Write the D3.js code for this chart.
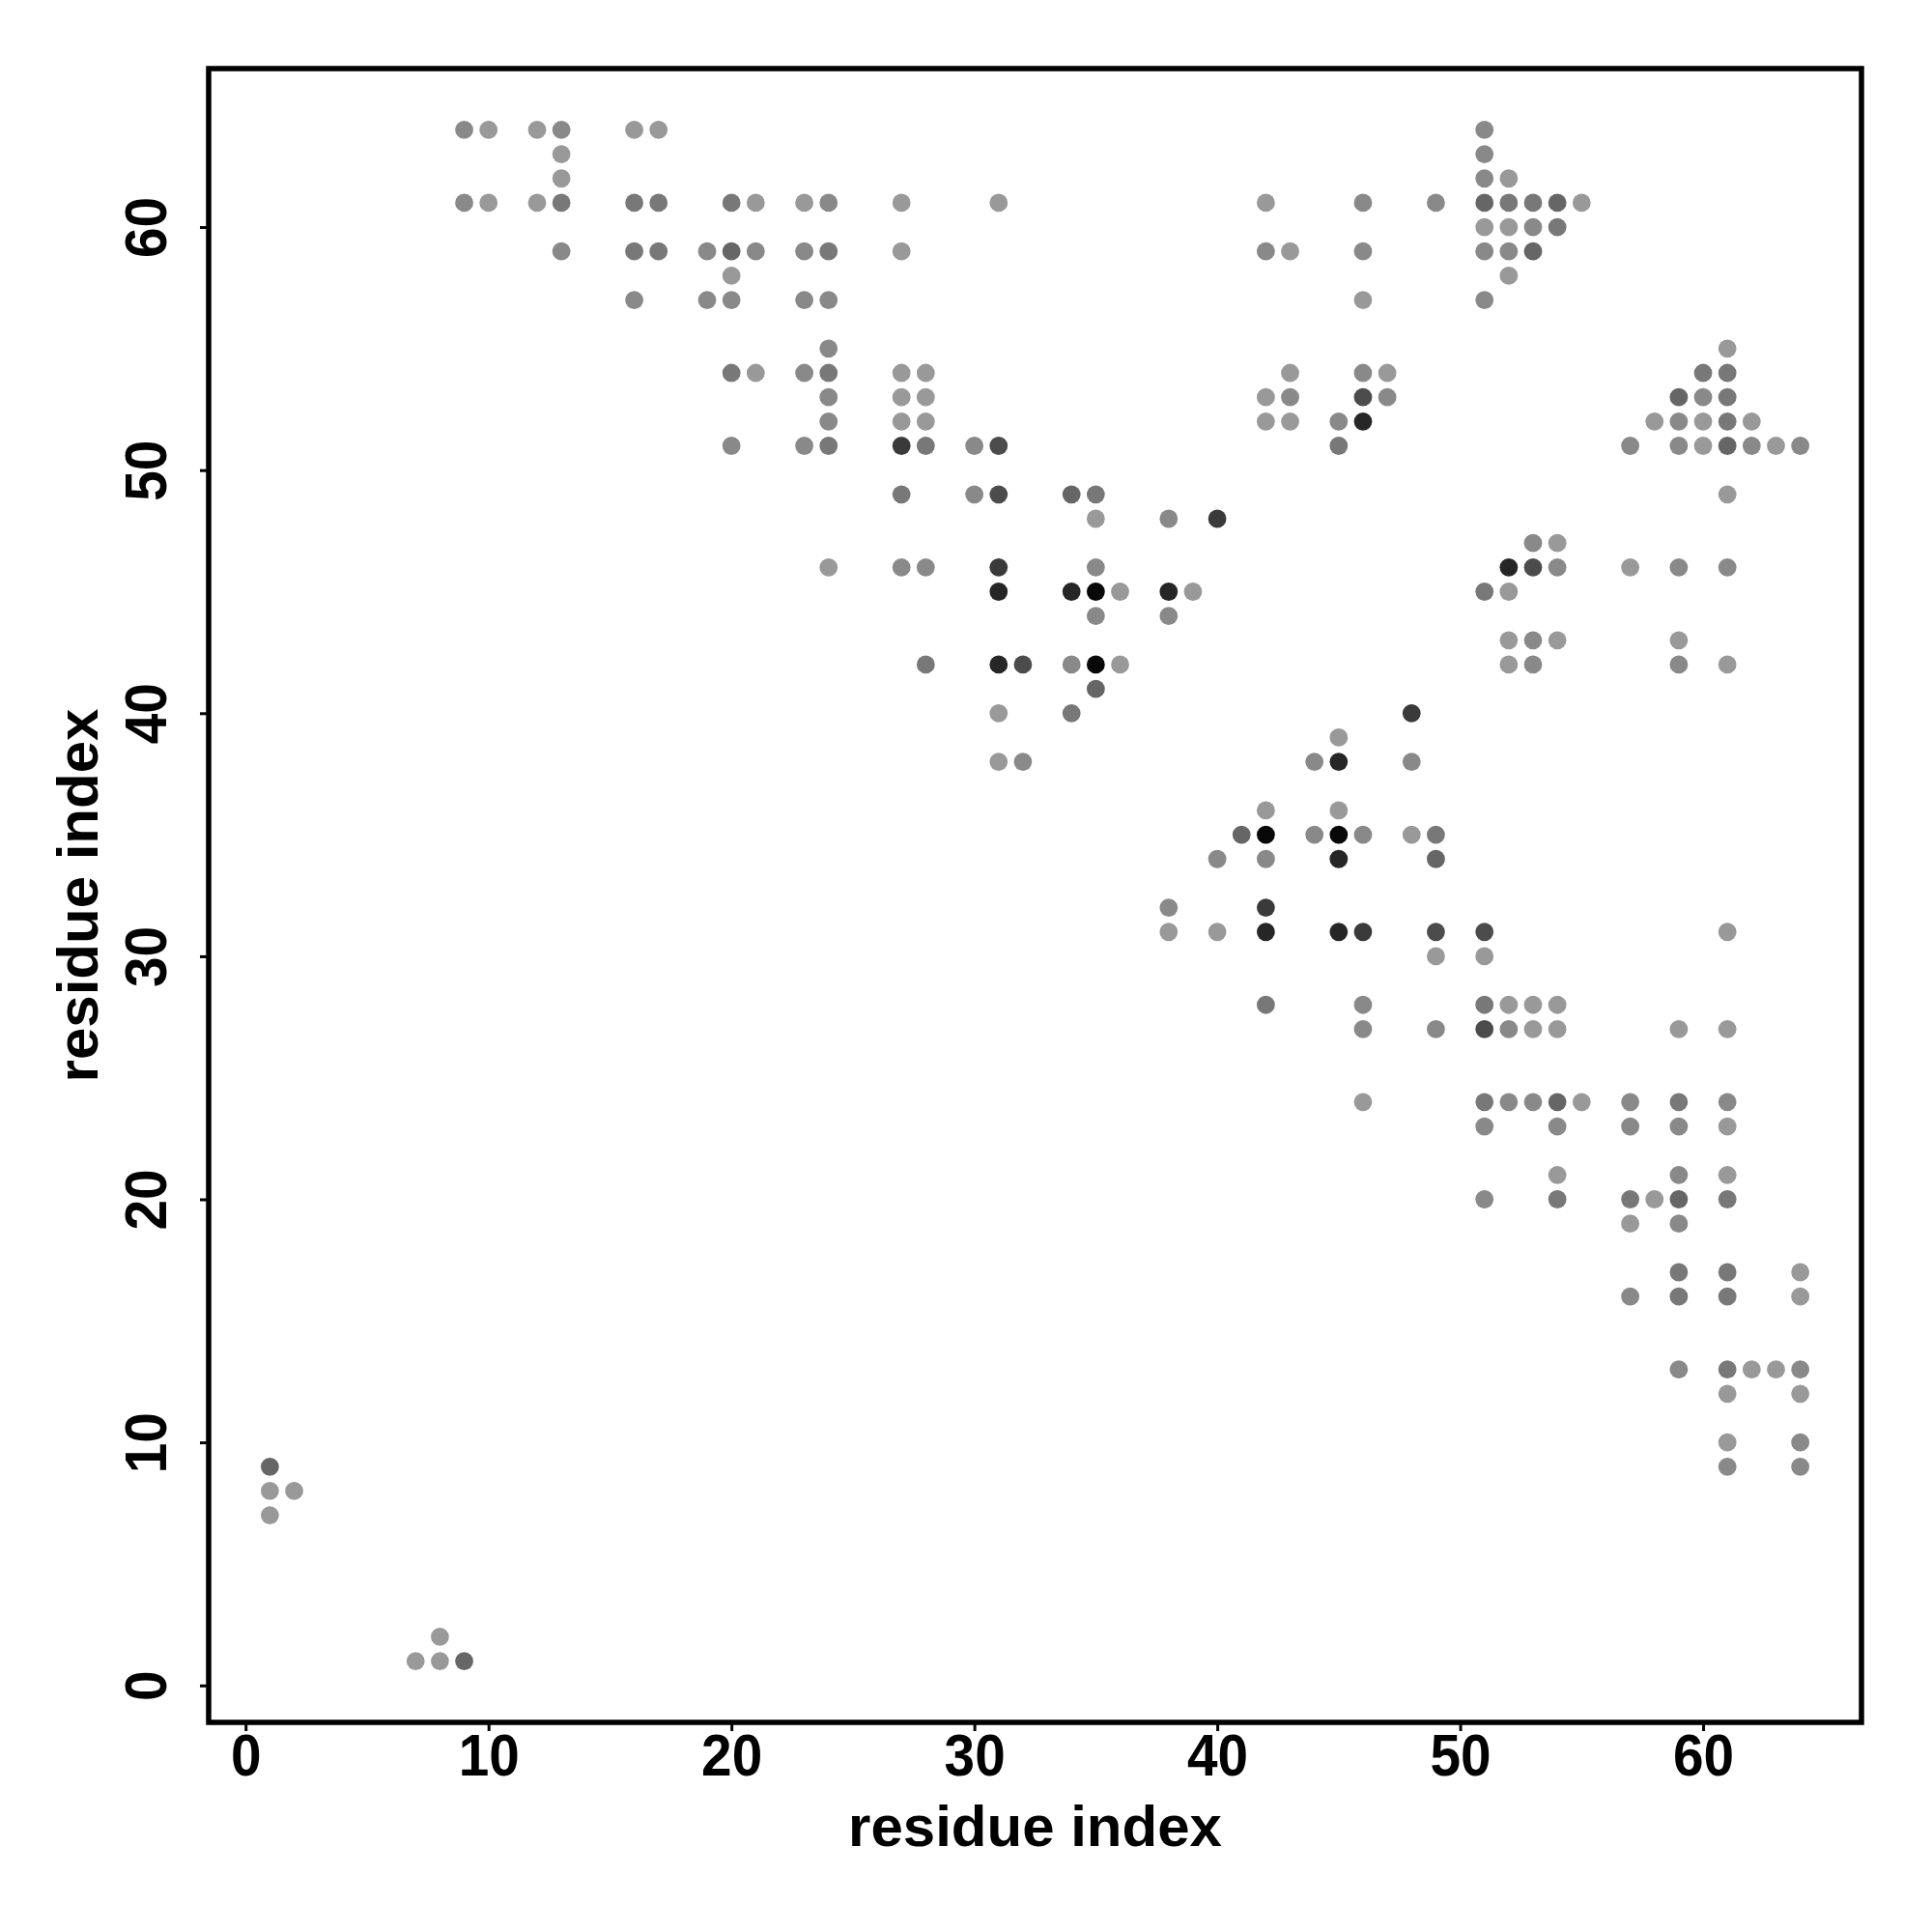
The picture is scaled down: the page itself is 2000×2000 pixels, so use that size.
<!DOCTYPE html>
<html>
<head>
<meta charset="utf-8">
<script src="https://cdn.jsdelivr.net/npm/d3@7"></script>
<style>
  html, body { margin: 0; padding: 0; background: #fff; }
  svg { display: block; }
</style>
</head>
<body>
<svg id="chart" width="2000" height="2000"></svg>
<script>
// ---- data: contacts (residue i, residue j, contact strength level 1..8) ----
const residueI = [
  // y = 64
  9, 10, 12, 13, 16, 17, 51,
  // 63, 62
  13, 51, 13, 51, 52,
  // 61
  9, 10, 12, 13, 16, 17, 20, 21, 23, 24, 27, 31, 42, 46, 49, 51, 52, 53, 54, 55,
  // 60
  51, 52, 53, 54,
  // 59
  13, 16, 17, 19, 20, 21, 23, 24, 27, 42, 43, 46, 51, 52, 53,
  // 58
  20, 52,
  // 57
  16, 19, 20, 23, 24, 46, 51,
  // 55
  24, 61,
  // 54
  20, 21, 23, 24, 27, 28, 43, 46, 47, 60, 61,
  // 53
  24, 27, 28, 42, 43, 46, 47, 59, 60, 61,
  // 52
  24, 27, 28, 42, 43, 45, 46, 58, 59, 60, 61, 62,
  // 51
  20, 23, 24, 27, 28, 30, 31, 45, 57, 59, 60, 61, 62, 63, 64,
  // 49
  27, 30, 31, 34, 35, 61,
  // 48
  35, 38, 40,
  // 47
  53, 54,
  // 46
  24, 27, 28, 31, 35, 52, 53, 54, 57, 59, 61,
  // 45
  31, 34, 35, 36, 38, 39, 51, 52,
  // 44
  35, 38,
  // 43
  52, 53, 54, 59,
  // 42
  28, 31, 32, 34, 35, 36, 52, 53, 59, 61,
  // 41
  35,
  // 40
  31, 34, 48,
  // 39
  45,
  // 38
  31, 32, 44, 45, 48,
  // 36
  42, 45,
  // 35
  41, 42, 44, 45, 46, 48, 49,
  // 34
  40, 42, 45, 49,
  // 32
  38, 42,
  // 31
  38, 40, 42, 45, 46, 49, 51, 61,
  // 30
  49, 51,
  // 28
  42, 46, 51, 52, 53, 54,
  // 27
  46, 49, 51, 52, 53, 54, 59, 61,
  // 24
  46, 51, 52, 53, 54, 55, 57, 59, 61,
  // 23
  51, 54, 57, 59, 61,
  // 21
  54, 59, 61,
  // 20
  51, 54, 57, 58, 59, 61,
  // 19
  57, 59,
  // 17
  59, 61, 64,
  // 16
  57, 59, 61, 64,
  // 13
  59, 61, 62, 63, 64,
  // 12
  61, 64,
  // 10
  61, 64,
  // 9
  1, 61, 64,
  // 8, 7
  1, 2, 1,
  // 2, 1
  8, 7, 8, 9
];

const residueJ = [
  64, 64, 64, 64, 64, 64, 64,
  63, 63, 62, 62, 62,
  61, 61, 61, 61, 61, 61, 61, 61, 61, 61, 61, 61, 61, 61, 61, 61, 61, 61, 61, 61,
  60, 60, 60, 60,
  59, 59, 59, 59, 59, 59, 59, 59, 59, 59, 59, 59, 59, 59, 59,
  58, 58,
  57, 57, 57, 57, 57, 57, 57,
  55, 55,
  54, 54, 54, 54, 54, 54, 54, 54, 54, 54, 54,
  53, 53, 53, 53, 53, 53, 53, 53, 53, 53,
  52, 52, 52, 52, 52, 52, 52, 52, 52, 52, 52, 52,
  51, 51, 51, 51, 51, 51, 51, 51, 51, 51, 51, 51, 51, 51, 51,
  49, 49, 49, 49, 49, 49,
  48, 48, 48,
  47, 47,
  46, 46, 46, 46, 46, 46, 46, 46, 46, 46, 46,
  45, 45, 45, 45, 45, 45, 45, 45,
  44, 44,
  43, 43, 43, 43,
  42, 42, 42, 42, 42, 42, 42, 42, 42, 42,
  41,
  40, 40, 40,
  39,
  38, 38, 38, 38, 38,
  36, 36,
  35, 35, 35, 35, 35, 35, 35,
  34, 34, 34, 34,
  32, 32,
  31, 31, 31, 31, 31, 31, 31, 31,
  30, 30,
  28, 28, 28, 28, 28, 28,
  27, 27, 27, 27, 27, 27, 27, 27,
  24, 24, 24, 24, 24, 24, 24, 24, 24,
  23, 23, 23, 23, 23,
  21, 21, 21,
  20, 20, 20, 20, 20, 20,
  19, 19,
  17, 17, 17,
  16, 16, 16, 16,
  13, 13, 13, 13, 13,
  12, 12,
  10, 10,
  9, 9, 9,
  8, 8, 7,
  2, 1, 1, 1
];

const strength = [
  2, 1, 1, 2, 1, 1, 2,
  1, 2, 1, 2, 1,
  2, 1, 1, 3, 3, 3, 3, 1, 1, 2, 1, 1, 1, 2, 2, 4, 3, 3, 4, 1,
  1, 1, 2, 3,
  2, 3, 3, 2, 4, 2, 2, 3, 1, 2, 1, 2, 2, 2, 4,
  1, 1,
  2, 2, 2, 2, 2, 1, 2,
  2, 1,
  3, 1, 2, 3, 1, 1, 1, 2, 1, 3, 3,
  2, 1, 1, 1, 2, 5, 2, 4, 2, 3,
  2, 1, 1, 1, 1, 2, 7, 1, 2, 1, 3, 1,
  2, 2, 3, 6, 3, 2, 5, 3, 2, 2, 1, 4, 2, 1, 2,
  3, 2, 5, 4, 3, 1,
  1, 2, 6,
  2, 1,
  1, 2, 2, 6, 2, 7, 5, 2, 1, 2, 2,
  7, 7, 8, 1, 7, 1, 3, 1,
  2, 2,
  1, 2, 1, 1,
  3, 7, 5, 2, 8, 1, 1, 2, 2, 1,
  4,
  1, 3, 6,
  1,
  1, 2, 2, 7, 2,
  1, 1,
  4, 8, 2, 8, 2, 1, 3,
  2, 2, 7, 4,
  2, 6,
  1, 1, 7, 7, 6, 5, 5, 1,
  1, 1,
  3, 2, 3, 1, 1, 1,
  2, 2, 5, 2, 1, 1, 1, 1,
  1, 3, 2, 2, 4, 1, 2, 3, 2,
  2, 2, 2, 2, 1,
  1, 2, 1,
  2, 3, 3, 1, 4, 3,
  1, 2,
  3, 3, 1,
  2, 3, 3, 1,
  2, 3, 1, 1, 2,
  1, 1,
  1, 2,
  4, 2, 2,
  1, 1, 1,
  1, 1, 1, 4
];

const xTicks = [0, 10, 20, 30, 40, 50, 60];
const yTicks = [0, 10, 20, 30, 40, 50, 60];
const xTitle = "residue index";
const yTitle = "residue index";

// ---- layout ----
const plot = { left: 216, right: 1927, top: 71, bottom: 1783 };
const data = residueI.map((x, k) => ({ x, y: residueJ[k], s: strength[k] }));

// R-style 4% expanded domain
const ext = (arr) => {
  const [a, b] = d3.extent(arr);
  const pad = (b - a) * 0.04;
  return [a - pad, b + pad];
};
const x = d3.scaleLinear().domain(ext(residueI)).range([plot.left, plot.right]);
const y = d3.scaleLinear().domain(ext(residueJ)).range([plot.bottom, plot.top]);

const grey = d3.scaleLinear()
  .domain([1, 2, 3, 4, 5, 6, 7, 8])
  .range(["#999999", "#898989", "#787878", "#666666", "#4c4c4c", "#3a3a3a", "#262626", "#080808"]);

const svg = d3.select("#chart");
svg.append("rect").attr("width", 2000).attr("height", 2000).attr("fill", "#fff");

// points
svg.append("g")
  .selectAll("circle")
  .data(data.slice().sort((a, b) => a.s - b.s))
  .join("circle")
  .attr("cx", d => x(d.x))
  .attr("cy", d => y(d.y))
  .attr("r", 9.4)
  .attr("fill", d => grey(d.s));

const font = "'Liberation Sans', Arial, Helvetica, sans-serif";
const tickFont = 61;

// x axis
const xAxis = svg.append("g")
  .attr("transform", `translate(0,${plot.bottom})`)
  .call(d3.axisBottom(x).tickValues(xTicks).tickSize(9).tickPadding(3).tickFormat(d3.format("d")));
xAxis.select(".domain").remove();
xAxis.selectAll(".tick line").attr("stroke", "#000").attr("stroke-width", 3);
xAxis.selectAll(".tick text")
  .attr("font-family", font).attr("font-weight", "bold").attr("font-size", tickFont)
  .attr("fill", "#000")
  .attr("transform", "scale(0.93,1)");

// y axis
const yAxis = svg.append("g")
  .attr("transform", `translate(${plot.left},0)`)
  .call(d3.axisLeft(y).tickValues(yTicks).tickSize(9).tickPadding(0).tickFormat(d3.format("d")));
yAxis.select(".domain").remove();
yAxis.selectAll(".tick line").attr("stroke", "#000").attr("stroke-width", 3);
yAxis.selectAll(".tick text")
  .attr("font-family", font).attr("font-weight", "bold").attr("font-size", tickFont)
  .attr("fill", "#000")
  .attr("text-anchor", "middle")
  .attr("dy", null)
  .attr("x", null)
  .attr("transform", "translate(-44,0) rotate(-90) scale(0.93,1)")
  .attr("y", 0);

// frame
svg.append("rect")
  .attr("x", plot.left).attr("y", plot.top)
  .attr("width", plot.right - plot.left).attr("height", plot.bottom - plot.top)
  .attr("fill", "none").attr("stroke", "#000").attr("stroke-width", 5.5);

// titles
svg.append("text")
  .attr("x", (plot.left + plot.right) / 2).attr("y", 1911)
  .attr("text-anchor", "middle")
  .attr("font-family", font).attr("font-weight", "bold").attr("font-size", 60)
  .text(xTitle);

svg.append("text")
  .attr("transform", `translate(101,${(plot.top + plot.bottom) / 2}) rotate(-90)`)
  .attr("text-anchor", "middle")
  .attr("font-family", font).attr("font-weight", "bold").attr("font-size", 60)
  .text(yTitle);
</script>
</body>
</html>
